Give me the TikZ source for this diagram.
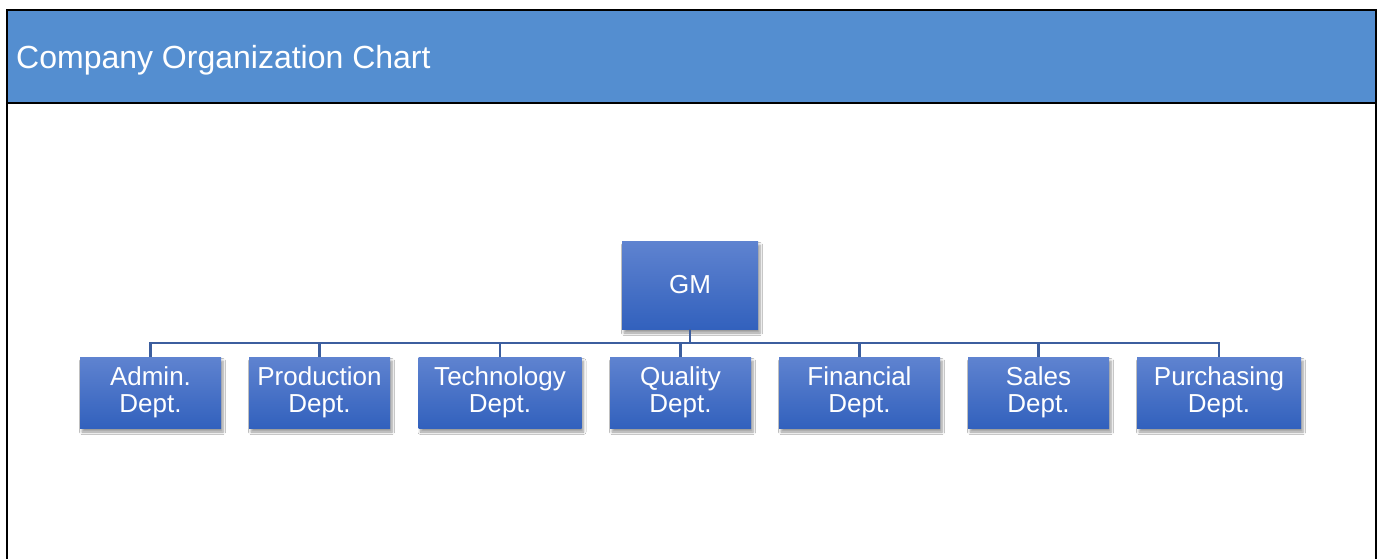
\documentclass[tikz,border=0pt]{standalone}
\usepackage{fontspec}
\setmainfont{Liberation Sans}
\usetikzlibrary{shadows.blur}
\definecolor{headblue}{RGB}{84,142,208}
\definecolor{boxtop}{RGB}{95,131,208}
\definecolor{boxbot}{RGB}{50,97,189}
\definecolor{linkblue}{RGB}{60,94,158}
\tikzset{
  orgbox/.style={rectangle, inner sep=0pt, align=center, text=white,
    font=\fontsize{26}{27.5}\selectfont, top color=boxtop, bottom color=boxbot,
    draw=none, minimum height=71pt,
    blur shadow={shadow xshift=2pt, shadow yshift=-4pt, shadow blur steps=6, shadow blur radius=2.5pt, shadow opacity=40}},
  link/.style={draw=linkblue, line width=2.3pt}
}
\begin{document}
\begin{tikzpicture}[x=1pt,y=-1pt]
\useasboundingbox (0,0) rectangle (1377,559);
\fill[white] (0,0) rectangle (1377,559);
% header
\fill[headblue] (7,10) rectangle (1376,103);
\draw[black, line width=2pt] (7,559) -- (7,10) -- (1376,10) -- (1376,559);
\draw[black, line width=2pt] (7,103) -- (1376,103);
\node[anchor=base west, text=white, inner sep=0pt, font=\fontsize{32}{36}\selectfont] (title) at (16,69) {Company Organization Chart};
% GM
\node[orgbox, minimum width=136pt, minimum height=88pt] (gm) at (690,285) {GM};
% departments
\node[orgbox, minimum width=141pt] (admin) at (150.5,392.5) {Admin.\\Dept.};
\node[orgbox, minimum width=141pt] (prod) at (319.5,392.5) {Production\\Dept.};
\node[orgbox, minimum width=163pt] (tech) at (500,392.5) {Technology\\Dept.};
\node[orgbox, minimum width=141pt] (qual) at (680.5,392.5) {Quality\\Dept.};
\node[orgbox, minimum width=161pt] (fin) at (859.5,392.5) {Financial\\Dept.};
\node[orgbox, minimum width=141pt] (sales) at (1038.5,392.5) {Sales\\Dept.};
\node[orgbox, minimum width=164pt] (purch) at (1219,392.5) {Purchasing\\Dept.};
% connectors
\foreach \c in {admin,prod,tech,qual,fin,sales,purch}{
  \draw[link] (gm.south) -- ++(0,13.5) -| (\c.north);
}
\end{tikzpicture}
\end{document}
